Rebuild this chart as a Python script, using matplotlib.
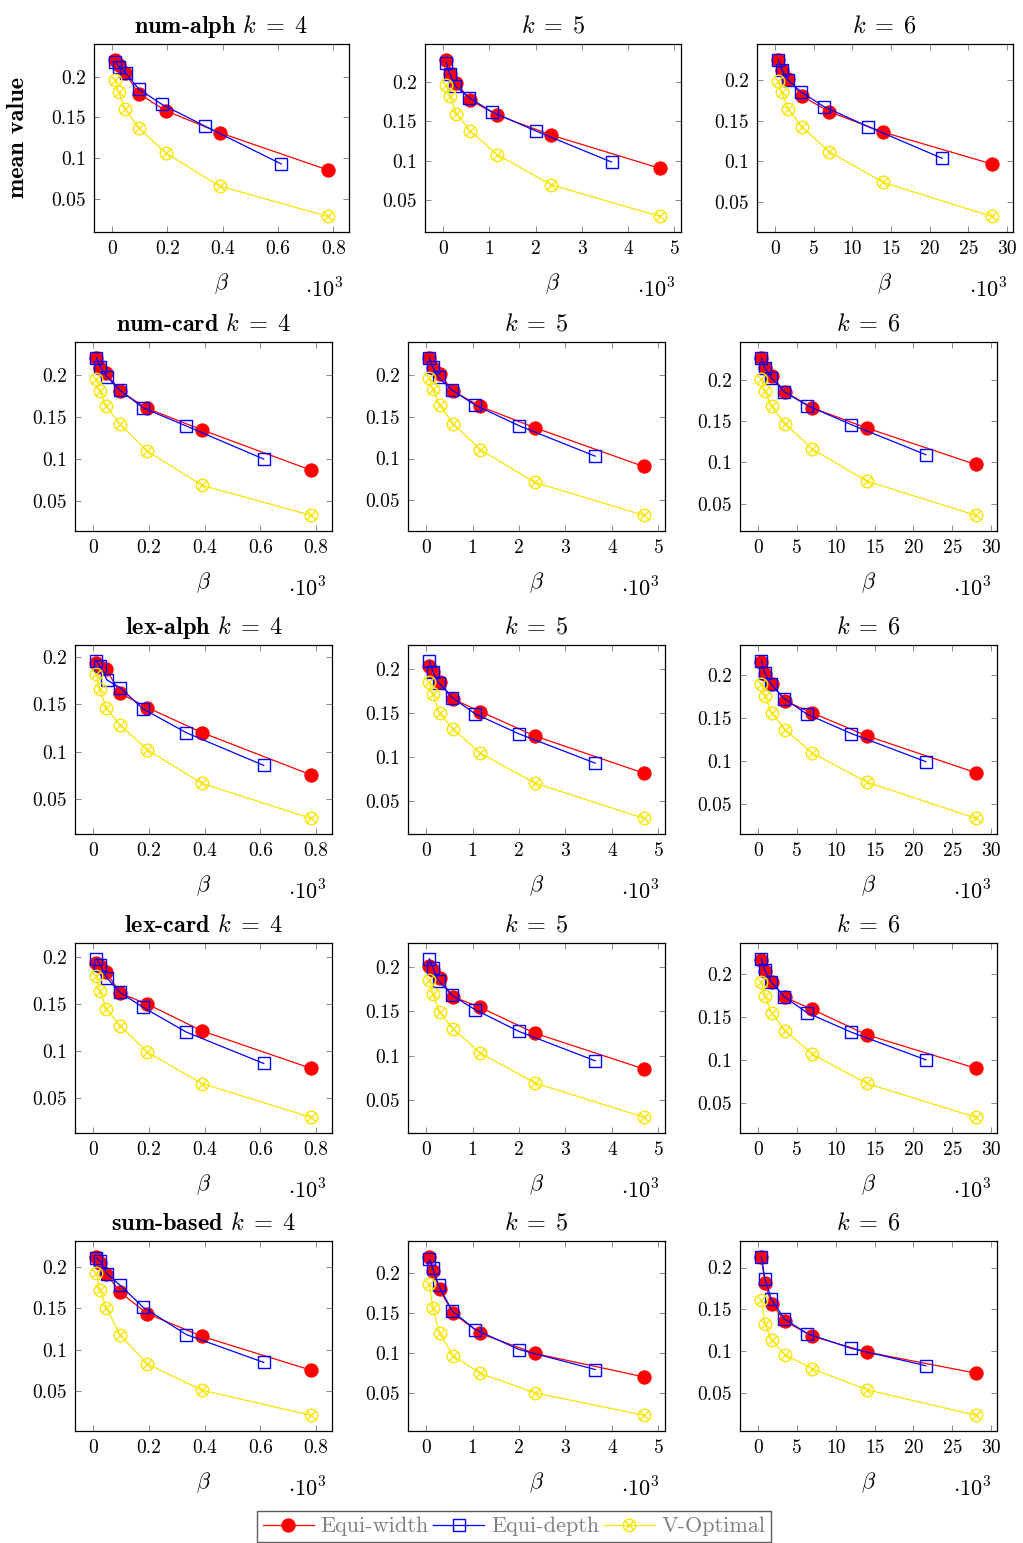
import matplotlib
matplotlib.use('Agg')
import matplotlib.pyplot as plt
from matplotlib.path import Path

plt.rcParams['mathtext.fontset'] = 'cm'
plt.rcParams['font.family'] = ['cmr10', 'DejaVu Serif']
plt.rcParams['axes.formatter.use_mathtext'] = True
plt.rcParams['axes.unicode_minus'] = False

# ---------------- data ----------------
schemes = ['num-alph', 'num-card', 'lex-alph', 'lex-card', 'sum-based']
ks = [4, 5, 6]
series_names = ['Equi-width', 'Equi-depth', 'V-Optimal']

# beta values (x 10^3)
ew_x_k4 = [0.012, 0.024, 0.048, 0.097, 0.195, 0.39, 0.78]
ed_x_k4 = [0.012, 0.026, 0.05, 0.097, 0.18, 0.335, 0.612]
vo_x_k4 = [0.012, 0.024, 0.048, 0.097, 0.195, 0.39, 0.78]
ew_x_k5 = [0.073, 0.146, 0.29, 0.585, 1.17, 2.34, 4.68]
ed_x_k5 = [0.073, 0.146, 0.27, 0.565, 1.06, 2.0, 3.64]
vo_x_k5 = [0.073, 0.146, 0.29, 0.585, 1.17, 2.34, 4.68]
ew_x_k6 = [0.44, 0.88, 1.75, 3.5, 7.0, 14.0, 28.0]
ed_x_k6 = [0.44, 0.88, 1.7, 3.4, 6.35, 12.0, 21.6]
vo_x_k6 = [0.44, 0.88, 1.75, 3.5, 7.0, 14.0, 28.0]

# num-alph
num_alph_k4_ew = [0.2207, 0.214, 0.2045, 0.179, 0.158, 0.131, 0.0854]
num_alph_k4_ed = [0.218, 0.212, 0.2045, 0.1846, 0.166, 0.1394, 0.0927]
num_alph_k4_vo = [0.196, 0.181, 0.160, 0.137, 0.106, 0.0655, 0.0285]
num_alph_k5_ew = [0.228, 0.210, 0.1987, 0.177, 0.158, 0.1326, 0.0907]
num_alph_k5_ed = [0.224, 0.210, 0.1945, 0.180, 0.1619, 0.138, 0.0986]
num_alph_k5_vo = [0.1954, 0.182, 0.1598, 0.138, 0.108, 0.0697, 0.0299]
num_alph_k6_ew = [0.2253, 0.2126, 0.2016, 0.1804, 0.1613, 0.136, 0.0969]
num_alph_k6_ed = [0.2253, 0.2126, 0.200, 0.1853, 0.1674, 0.143, 0.1038]
num_alph_k6_vo = [0.199, 0.1853, 0.1641, 0.1425, 0.112, 0.0741, 0.0324]

# num-card
num_card_k4_ew = [0.2206, 0.2083, 0.2024, 0.1806, 0.160, 0.1345, 0.0865]
num_card_k4_ed = [0.2206, 0.210, 0.1976, 0.1817, 0.1607, 0.139, 0.0996]
num_card_k4_vo = [0.1956, 0.181, 0.163, 0.141, 0.1091, 0.0683, 0.0325]
num_card_k5_ew = [0.2206, 0.2083, 0.2008, 0.1806, 0.1623, 0.1369, 0.0905]
num_card_k5_ed = [0.2206, 0.209, 0.197, 0.1817, 0.1639, 0.1393, 0.1028]
num_card_k5_vo = [0.1968, 0.183, 0.164, 0.1417, 0.1107, 0.0714, 0.0321]
num_card_k6_ew = [0.2268, 0.2146, 0.2045, 0.1854, 0.166, 0.1416, 0.0974]
num_card_k6_ed = [0.226, 0.2146, 0.2024, 0.1854, 0.1688, 0.1457, 0.1092]
num_card_k6_vo = [0.2012, 0.187, 0.168, 0.1469, 0.1161, 0.0772, 0.0358]

# lex-alph
lex_alph_k4_ew = [0.1937, 0.1895, 0.1867, 0.1615, 0.1465, 0.1203, 0.0759]
lex_alph_k4_ed = [0.1958, 0.19, 0.1755, 0.1675, 0.145, 0.12, 0.0857]
lex_alph_k4_vo = [0.1815, 0.1657, 0.1458, 0.1283, 0.1021, 0.0668, 0.0301]
lex_alph_k5_ew = [0.2038, 0.1962, 0.1853, 0.1657, 0.1518, 0.1242, 0.082]
lex_alph_k5_ed = [0.2094, 0.197, 0.1845, 0.1676, 0.1491, 0.1265, 0.0933]
lex_alph_k5_vo = [0.1853, 0.1714, 0.15, 0.1318, 0.1046, 0.0707, 0.0308]
lex_alph_k6_ew = [0.2158, 0.2015, 0.1896, 0.17, 0.1562, 0.1296, 0.0869]
lex_alph_k6_ed = [0.2169, 0.2027, 0.1896, 0.1727, 0.1546, 0.1323, 0.0996]
lex_alph_k6_vo = [0.19, 0.1762, 0.1562, 0.1369, 0.1096, 0.0758, 0.0338]

# lex-card
lex_card_k4_ew = [0.1936, 0.1901, 0.1837, 0.1617, 0.15, 0.1216, 0.0819]
lex_card_k4_ed = [0.1982, 0.1918, 0.1777, 0.1624, 0.1465, 0.1202, 0.0869]
lex_card_k4_vo = [0.1801, 0.1645, 0.145, 0.127, 0.0989, 0.0656, 0.0298]
lex_card_k5_ew = [0.2015, 0.197, 0.1876, 0.1665, 0.1544, 0.1254, 0.085]
lex_card_k5_ed = [0.2094, 0.1996, 0.1845, 0.168, 0.1518, 0.1273, 0.0941]
lex_card_k5_vo = [0.1857, 0.1695, 0.1491, 0.1303, 0.1028, 0.0692, 0.0304]
lex_card_k6_ew = [0.2167, 0.2039, 0.1911, 0.1728, 0.1588, 0.1292, 0.0903]
lex_card_k6_ed = [0.2179, 0.2047, 0.1911, 0.1735, 0.1548, 0.1323, 0.1]
lex_card_k6_vo = [0.1907, 0.1747, 0.1545, 0.1342, 0.1066, 0.0724, 0.0331]

# sum-based
sum_based_k4_ew = [0.2121, 0.2048, 0.1916, 0.1694, 0.1437, 0.1164, 0.0758]
sum_based_k4_ed = [0.2109, 0.2068, 0.1916, 0.1779, 0.1513, 0.1184, 0.085]
sum_based_k4_vo = [0.1928, 0.1727, 0.1505, 0.118, 0.083, 0.0516, 0.0215]
sum_based_k5_ew = [0.2199, 0.2025, 0.1792, 0.1493, 0.1244, 0.0995, 0.0704]
sum_based_k5_ed = [0.2166, 0.2054, 0.1846, 0.1522, 0.1293, 0.1044, 0.0795]
sum_based_k5_vo = [0.1855, 0.1564, 0.1248, 0.0966, 0.0746, 0.0504, 0.0226]
sum_based_k6_ew = [0.2124, 0.1816, 0.1564, 0.1356, 0.1176, 0.0988, 0.0736]
sum_based_k6_ed = [0.2128, 0.1868, 0.1624, 0.1384, 0.1208, 0.1032, 0.0824]
sum_based_k6_vo = [0.1608, 0.1328, 0.1128, 0.0956, 0.0788, 0.0536, 0.0232]

x_ticks_k4 = [0, 0.2, 0.4, 0.6, 0.8]
x_ticks_k5 = [0, 1, 2, 3, 4, 5]
x_ticks_k6 = [0, 5, 10, 15, 20, 25, 30]
x_ticklabels_k4 = ['0', '0.2', '0.4', '0.6', '0.8']
x_ticklabels_k5 = ['0', '1', '2', '3', '4', '5']
x_ticklabels_k6 = ['0', '5', '10', '15', '20', '25', '30']
y_ticks = [0.05, 0.1, 0.15, 0.2]
y_ticklabels = ['0.05', '0.1', '0.15', '0.2']

# ---------------- assemble ----------------
g = globals()
xs = {k: (g[f'ew_x_k{k}'], g[f'ed_x_k{k}'], g[f'vo_x_k{k}']) for k in ks}
xt = {4: (x_ticks_k4, x_ticklabels_k4), 5: (x_ticks_k5, x_ticklabels_k5),
      6: (x_ticks_k6, x_ticklabels_k6)}
vals = {}
for s in schemes:
    key = s.replace('-', '_')
    for k in ks:
        vals[(s, k)] = (g[f'{key}_k{k}_ew'], g[f'{key}_k{k}_ed'], g[f'{key}_k{k}_vo'])

# ---------------- style ----------------
W, H = 1023, 1543
RED, BLUE, YEL = '#ff0000', '#0000ff', '#f7e600'
otimes = Path.make_compound_path(
    Path.unit_circle(),
    Path([(-0.7071, -0.7071), (0.7071, 0.7071), (-0.7071, 0.7071), (0.7071, -0.7071)],
         [Path.MOVETO, Path.LINETO, Path.MOVETO, Path.LINETO]))
styles = [
    dict(color=RED, marker='o', markersize=9.5, markerfacecolor=RED, markeredgecolor=RED,
         markeredgewidth=0.8),
    dict(color=BLUE, marker='s', markersize=8.5, markerfacecolor='none', markeredgecolor=BLUE,
         markeredgewidth=1.0),
    dict(color=YEL, marker=otimes, markersize=9.0, markerfacecolor='none', markeredgecolor=YEL,
         markeredgewidth=1.0),
]

row_tops = [44, 342, 645, 943, 1241]
row_bots = [232, 531, 834, 1133, 1431]
cols_first = [(94, 349), (425, 681), (757, 1013)]
cols_other = [(75, 332), (408, 665), (740, 997)]

fig = plt.figure(figsize=(W / 100, H / 100), dpi=100)
FS = 14
TFS = 17.5
handles = None
for r, s in enumerate(schemes):
    cols = cols_first if r == 0 else cols_other
    for c, k in enumerate(ks):
        l, rr = cols[c]
        t, b = row_tops[r], row_bots[r]
        ax = fig.add_axes([l / W, 1 - b / H, (rr - l) / W, (b - t) / H])
        hs = []
        for i in range(3):
            h, = ax.plot(xs[k][i], vals[(s, k)][i], lw=0.9, label=series_names[i], **styles[i])
            hs.append(h)
        if handles is None:
            handles = hs
        ax.margins(x=0.1, y=0.1)
        ax.set_xticks(xt[k][0], xt[k][1])
        ax.set_yticks(y_ticks, y_ticklabels)
        ax.tick_params(direction='in', top=True, right=True, length=4, width=0.6,
                       color='#777777', labelsize=FS, pad=6)
        for sp in ax.spines.values():
            sp.set_linewidth(0.9)
        ktxt = r'$k\;=\;%d$' % k
        if c == 0:
            ax.set_title(s + ' ' + ktxt, fontsize=TFS, family='cmb10', pad=8)
        else:
            ax.set_title(ktxt, fontsize=TFS, pad=8)
        hpx = b - t
        ax.set_xlabel(r'$\beta$', fontsize=16, va='center')
        ax.xaxis.set_label_coords(0.5, -52 / hpx)
        ax.annotate(r'$\cdot 10^{3}$', xy=(1, 0), xycoords='axes fraction',
                    xytext=(-6, -57), textcoords='offset pixels', ha='right', va='center',
                    fontsize=16)
        if r == 0 and c == 0:
            ax.set_ylabel('mean value', fontsize=TFS, family='cmb10', va='center')
            ax.yaxis.set_label_coords((18 - l) / (rr - l), 0.5)

leg = fig.legend(handles, series_names, loc='lower center', bbox_to_anchor=(514 / W, 1 / H),
                 ncol=3, frameon=True, fancybox=False, edgecolor='#333333', fontsize=16,
                 labelcolor='#808080', handlelength=2.3, handletextpad=0.3, columnspacing=0.2,
                 borderpad=0.25, borderaxespad=0)
leg.get_frame().set_linewidth(1.0)

fig.savefig('out.png', dpi=100)
